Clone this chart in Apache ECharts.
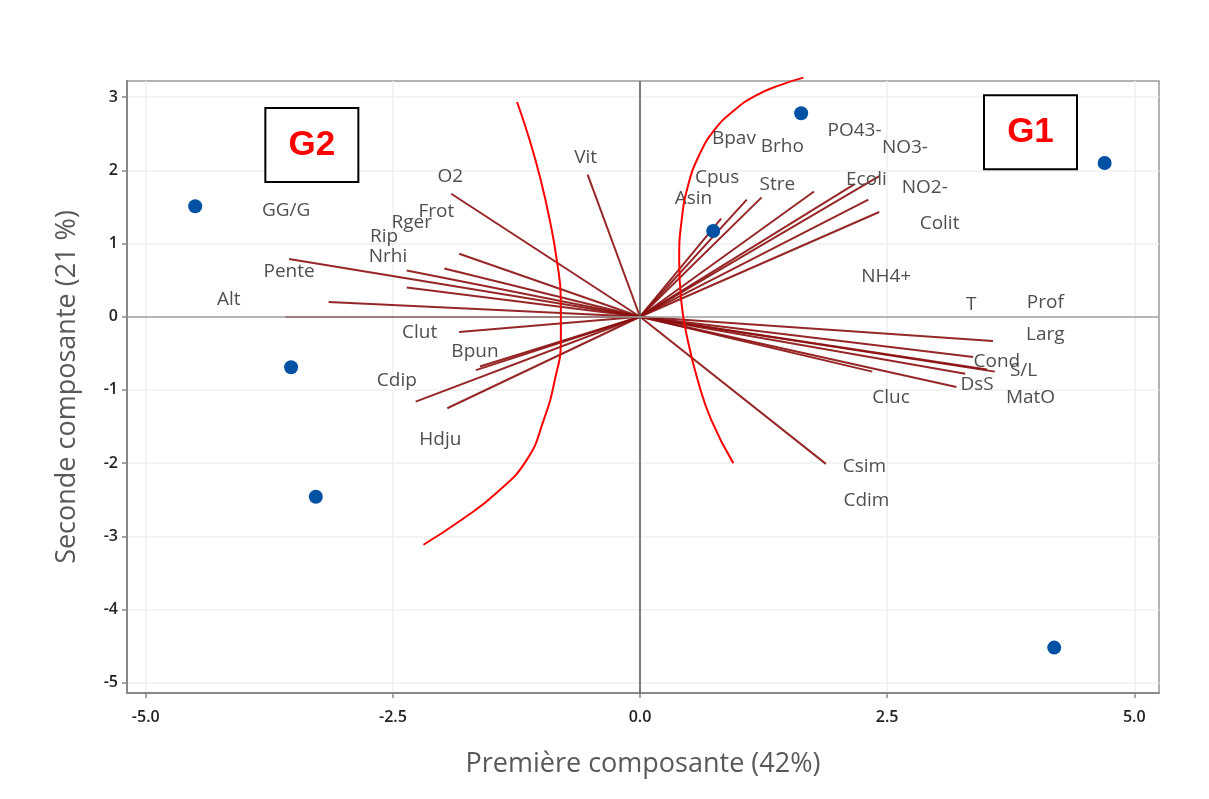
<!DOCTYPE html>
<html>
<head>
<meta charset="utf-8">
<script src="https://cdn.jsdelivr.net/npm/echarts@6/dist/echarts.min.js"></script>
<style>
  html, body { margin: 0; padding: 0; background: #fff; }
  #chart { width: 1209px; height: 799px; }
</style>
</head>
<body>
<div id="chart"></div>
<script>
// Individual scores (sites) on PC1 / PC2
const scoreX = [-4.50, -3.53, -3.28, 0.74, 1.63, 4.70, 4.19];
const scoreY = [1.51, -0.69, -2.46, 1.17, 2.78, 2.10, -4.52];

// Loading vectors (end points, drawn from the origin)
const vectorX = [-3.55, -3.59, -3.15, -2.36, -2.36, -1.98, -1.83, -1.91, -0.53, -1.83,
                 -1.66, -1.62, -2.27, -1.95, 0.82, 1.08, 1.23, 1.76, 2.17, 2.42,
                 2.31, 2.42, 3.57, 3.37, 3.59, 3.51, 3.29, 3.20, 2.35, 1.88];
const vectorY = [0.79, 0.00, 0.20, 0.63, 0.40, 0.66, 0.86, 1.68, 1.94, -0.21,
                 -0.73, -0.68, -1.16, -1.25, 1.34, 1.60, 1.63, 1.71, 1.81, 1.92,
                 1.60, 1.43, -0.33, -0.55, -0.75, -0.72, -0.78, -0.96, -0.75, -2.01];

// Variable names and where their labels sit
const varNames = ['GG/G', 'O2', 'Frot', 'Rger', 'Rip', 'Nrhi', 'Pente', 'Alt', 'Clut', 'Bpun',
                  'Cdip', 'Hdju', 'Vit', 'Bpav', 'Brho', 'PO43-', 'NO3-', 'Cpus', 'Asin', 'Stre',
                  'Ecoli', 'NO2-', 'Colit', 'NH4+', 'T', 'Prof', 'Larg', 'Cond', 'S/L', 'DsS',
                  'MatO', 'Cluc', 'Csim', 'Cdim'];
const labelX = [-3.58, -1.92, -2.06, -2.31, -2.59, -2.55, -3.55, -4.16, -2.23, -1.67,
                -2.46, -2.02, -0.55, 0.95, 1.44, 2.17, 2.68, 0.78, 0.54, 1.39,
                2.29, 2.88, 3.03, 2.49, 3.35, 4.10, 4.10, 3.61, 3.88, 3.41,
                3.95, 2.54, 2.27, 2.29];
const labelY = [1.45, 1.92, 1.43, 1.29, 1.10, 0.82, 0.61, 0.24, -0.22, -0.48,
                -0.87, -1.68, 2.18, 2.43, 2.33, 2.54, 2.31, 1.90, 1.62, 1.81,
                1.87, 1.77, 1.27, 0.55, 0.16, 0.19, -0.25, -0.61, -0.73, -0.93,
                -1.11, -1.11, -2.05, -2.51];

// Group boundary arcs
const arcG2X = [-1.244, -1.116, -1.004, -0.913, -0.842, -0.801, -0.801, -0.862, -0.974, -1.146, -1.450, -1.805, -2.191];
const arcG2Y = [2.933, 2.411, 1.865, 1.320, 0.774, 0.228, -0.318, -0.864, -1.409, -1.955, -2.405, -2.773, -3.115];
const arcG1X = [1.653, 1.410, 1.176, 0.953, 0.751, 0.598, 0.487, 0.421, 0.396, 0.416, 0.482, 0.583, 0.720, 0.943];
const arcG1Y = [3.266, 3.161, 3.025, 2.820, 2.548, 2.206, 1.797, 1.319, 0.774, 0.228, -0.318, -0.864, -1.409, -2.000];

// Group tags
const groupNames = ['G1', 'G2'];
const groupX = [3.95, -3.32];
const groupY = [2.52, 2.345];

// Axis ticks
const xTicks = [-5, -2.5, 0, 2.5, 5];
const yTicks = [-5, -4, -3, -2, -1, 0, 1, 2, 3];

const zip = (xs, ys) => xs.map((x, i) => [x, ys[i]]);

const chart = echarts.init(document.getElementById('chart'), null, { renderer: 'canvas' });

const tickLabelStyle = {
  color: '#222',
  fontSize: 16,
  fontWeight: 600,
  fontFamily: 'Open Sans'
};

const arcSeries = (xs, ys) => ({
  type: 'line',
  z: 6,
  clip: false,
  smooth: 0.5,
  showSymbol: false,
  silent: true,
  lineStyle: { color: '#ff0000', width: 2 },
  data: zip(xs, ys)
});

const option = {
  backgroundColor: '#fff',
  animation: false,
  grid: {
    left: 127, right: 50, top: 81, bottom: 106,
    show: true, borderColor: '#999', borderWidth: 1.5, backgroundColor: '#fff'
  },
  xAxis: {
    type: 'value',
    min: -5.19, max: 5.25,
    name: 'Première composante (42%)',
    nameLocation: 'middle',
    nameGap: 58,
    nameTextStyle: { color: '#595959', fontSize: 27, fontFamily: 'Open Sans' },
    axisLine: { show: true, onZero: false, lineStyle: { color: '#888', width: 2 } },
    axisTick: { show: true, length: 5, customValues: xTicks, lineStyle: { color: '#888', width: 1.5 } },
    axisLabel: Object.assign({ customValues: xTicks, margin: 16, formatter: v => v.toFixed(1) }, tickLabelStyle),
    splitLine: { show: true, lineStyle: { color: '#efefef', width: 1.5 } }
  },
  yAxis: {
    type: 'value',
    min: -5.14, max: 3.22,
    name: 'Seconde composante (21 %)',
    nameLocation: 'middle',
    nameGap: 46,
    nameTextStyle: { color: '#595959', fontSize: 27, fontFamily: 'Open Sans' },
    axisLine: { show: true, onZero: false, lineStyle: { color: '#888', width: 2 } },
    axisTick: { show: true, length: 5, customValues: yTicks, lineStyle: { color: '#888', width: 1.5 } },
    axisLabel: Object.assign({ customValues: yTicks, margin: 9, formatter: v => String(v) }, tickLabelStyle),
    splitLine: { show: true, lineStyle: { color: '#efefef', width: 1.5 } }
  },
  series: [
    {
      // reference lines through the origin
      type: 'line',
      data: [],
      silent: true,
      markLine: {
        silent: true,
        symbol: ['none', 'none'],
        label: { show: false },
        data: [
          { xAxis: 0, lineStyle: { color: '#555', width: 1.5, type: 'solid' } },
          { yAxis: 0, lineStyle: { color: '#a0a0a0', width: 1.5, type: 'solid' } }
        ]
      }
    },
    {
      // loading vectors
      type: 'lines',
      coordinateSystem: 'cartesian2d',
      silent: true,
      z: 3,
      lineStyle: { color: '#8b0f0f', width: 2, opacity: 0.9 },
      data: vectorX.map((x, i) => ({ coords: [[0, 0], [x, vectorY[i]]] }))
    },
    {
      type: 'scatter',
      z: 4,
      symbolSize: 0,
      silent: true,
      itemStyle: { color: 'transparent', opacity: 1 },
      label: {
        show: true,
        position: 'inside',
        formatter: p => varNames[p.dataIndex],
        color: '#4f4f4f',
        fontSize: 19,
        fontFamily: 'Open Sans'
      },
      data: zip(labelX, labelY)
    },
    {
      type: 'scatter',
      z: 5,
      symbol: 'circle',
      symbolSize: 14,
      itemStyle: { color: '#0050a4', opacity: 1 },
      data: zip(scoreX, scoreY)
    },
    arcSeries(arcG2X, arcG2Y),
    arcSeries(arcG1X, arcG1Y),
    {
      type: 'scatter',
      z: 7,
      symbolSize: 0,
      silent: true,
      itemStyle: { color: 'transparent', opacity: 1 },
      label: {
        show: true,
        position: 'inside',
        formatter: p => groupNames[p.dataIndex],
        color: '#ff0000',
        fontSize: 35,
        fontWeight: 'bold',
        fontFamily: 'Liberation Sans',
        width: 91,
        height: 72,
        lineHeight: 72,
        align: 'center',
        verticalAlign: 'middle',
        backgroundColor: '#fff',
        borderColor: '#000',
        borderWidth: 2
      },
      data: zip(groupX, groupY)
    }
  ]
};

chart.setOption(option);
</script>
</body>
</html>
